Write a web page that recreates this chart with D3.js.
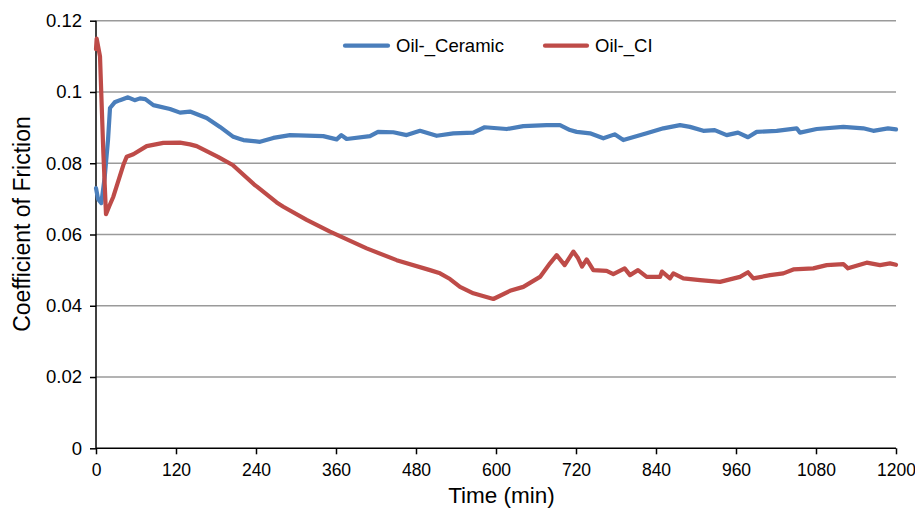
<!DOCTYPE html>
<html><head><meta charset="utf-8">
<script src="https://cdn.jsdelivr.net/npm/d3@7"></script>
<style>
body{margin:0;background:#fff;}
svg{display:block;font-family:"Liberation Sans",Arial,sans-serif;}
</style></head><body>
<svg id="chart" width="915" height="509"></svg>
<script>
const ceramicTime=[0,3,8,13,18,21,28,36,48,58,66,74,86,111,126,141,166,186,206,216,221,246,266,291,341,361,368,376,411,423,446,466,486,511,536,566,583,616,641,676,696,711,721,741,761,778,791,826,851,876,891,911,928,946,963,978,991,1021,1051,1056,1081,1121,1151,1166,1188,1200];
const ceramicCOF=[0.073,0.070,0.0688,0.076,0.0865,0.0955,0.0971,0.0977,0.0985,0.0977,0.0982,0.098,0.0963,0.0952,0.0942,0.0945,0.0927,0.0902,0.0874,0.0868,0.0865,0.086,0.0871,0.0879,0.0876,0.0867,0.0879,0.0868,0.0876,0.0888,0.0887,0.0879,0.0891,0.0877,0.0884,0.0886,0.0901,0.0896,0.0904,0.0907,0.0907,0.0893,0.0888,0.0884,0.087,0.0881,0.0865,0.0884,0.0898,0.0907,0.0902,0.0891,0.0893,0.0879,0.0886,0.0873,0.0888,0.0891,0.0898,0.0886,0.0896,0.0902,0.0898,0.0891,0.0898,0.0895];
const ciTime=[0,1,6,11,15,20,26,41,46,56,76,101,126,141,151,183,205,238,241,271,281,316,351,406,451,501,516,531,546,566,596,621,641,666,681,691,703,716,723,729,736,746,766,776,793,801,813,826,846,849,861,866,881,906,936,966,978,986,1011,1031,1046,1076,1096,1121,1128,1156,1176,1191,1200];
const ciCOF=[0.112,0.115,0.110,0.083,0.0657,0.068,0.0706,0.0795,0.0818,0.0825,0.0848,0.0857,0.0858,0.0853,0.0848,0.0818,0.0795,0.0739,0.0735,0.0690,0.0678,0.0641,0.0608,0.0561,0.0528,0.0500,0.0491,0.0475,0.0453,0.0435,0.0419,0.0442,0.0453,0.0481,0.0519,0.0542,0.0514,0.0552,0.0534,0.051,0.053,0.050,0.0498,0.0489,0.0505,0.0486,0.050,0.0481,0.0481,0.0496,0.0477,0.0491,0.0477,0.0472,0.0467,0.0481,0.0494,0.0477,0.0486,0.0491,0.0502,0.0505,0.0514,0.0517,0.0505,0.0521,0.0514,0.0519,0.0515];
const xTicks=[0,120,240,360,480,600,720,840,960,1080,1200];
const yTicks=[0,0.02,0.04,0.06,0.08,0.1,0.12];
const seriesNames=["Oil-_Ceramic","Oil-_CI"];
const seriesColors=["#4A7EBB","#BE4B48"];

const svg=d3.select("#chart");
const m={l:96,r:19,t:20.7,b:60.7};
const W=915,H=509;
const x=d3.scaleLinear().domain([0,1200]).range([m.l,W-m.r]);
const y=d3.scaleLinear().domain([0,0.12]).range([H-m.b,m.t]);
const FONT="Liberation Sans, Arial, sans-serif";

// gridlines
svg.append("g").selectAll("line").data(yTicks.filter(d=>d>0)).join("line")
  .attr("x1",x(0)).attr("x2",x(1200)).attr("y1",d=>y(d)).attr("y2",d=>y(d))
  .attr("stroke","#9a9a9a").attr("stroke-width",1.5);

// y axis
const ya=svg.append("g").attr("transform",`translate(${x(0)},0)`)
  .call(d3.axisLeft(y).tickValues(yTicks).tickFormat(d=>d===0?"0":String(+d.toFixed(2))).tickSize(6).tickPadding(8));
ya.select(".domain").attr("stroke","#000").attr("stroke-width",1.5).attr("d",`M0,${y(0)}V${y(0.12)}`);
ya.selectAll(".tick line").attr("stroke","#000").attr("stroke-width",1.5);
ya.selectAll("text").attr("font-size",18.5).attr("fill","#000").attr("font-family",FONT);

// x axis
const xa=svg.append("g").attr("transform",`translate(0,${y(0)})`)
  .call(d3.axisBottom(x).tickValues(xTicks).tickFormat(d3.format("d")).tickSize(6).tickPadding(9));
xa.select(".domain").attr("stroke","#000").attr("stroke-width",1.5).attr("d",`M${x(0)},0H${x(1200)}`);
xa.selectAll(".tick line").attr("stroke","#000").attr("stroke-width",1.5);
xa.selectAll("text").attr("font-size",17.5).attr("fill","#000").attr("font-family",FONT);

// lines
const line=d3.line().x(d=>x(d[0])).y(d=>y(d[1]));
const ceramicData=ceramicTime.map((t,i)=>[t,ceramicCOF[i]]);
const ciData=ciTime.map((t,i)=>[t,ciCOF[i]]);
svg.append("path").datum(ceramicData).attr("d",line).attr("fill","none")
  .attr("stroke",seriesColors[0]).attr("stroke-width",4.2).attr("stroke-linejoin","round").attr("stroke-linecap","round");
svg.append("path").datum(ciData).attr("d",line).attr("fill","none")
  .attr("stroke",seriesColors[1]).attr("stroke-width",4.2).attr("stroke-linejoin","round").attr("stroke-linecap","round");

// axis titles
svg.append("text").attr("transform",`translate(29.5,224) rotate(-90)`)
  .attr("text-anchor","middle").attr("font-size",23).attr("fill","#000").text("Coefficient of Friction");
svg.append("text").attr("x",501.5).attr("y",503)
  .attr("text-anchor","middle").attr("font-size",22.5).attr("fill","#000").text("Time (min)");

// legend
const leg=[{x1:345,x2:388,tx:396},{x1:545,x2:587,tx:595}];
leg.forEach((l,i)=>{
  svg.append("line").attr("x1",l.x1).attr("x2",l.x2).attr("y1",45.7).attr("y2",45.7)
    .attr("stroke",seriesColors[i]).attr("stroke-width",4.2).attr("stroke-linecap","round");
  svg.append("text").attr("x",l.tx).attr("y",52).attr("font-size",18.5).attr("fill","#000").text(seriesNames[i]);
});
</script>
</body></html>
